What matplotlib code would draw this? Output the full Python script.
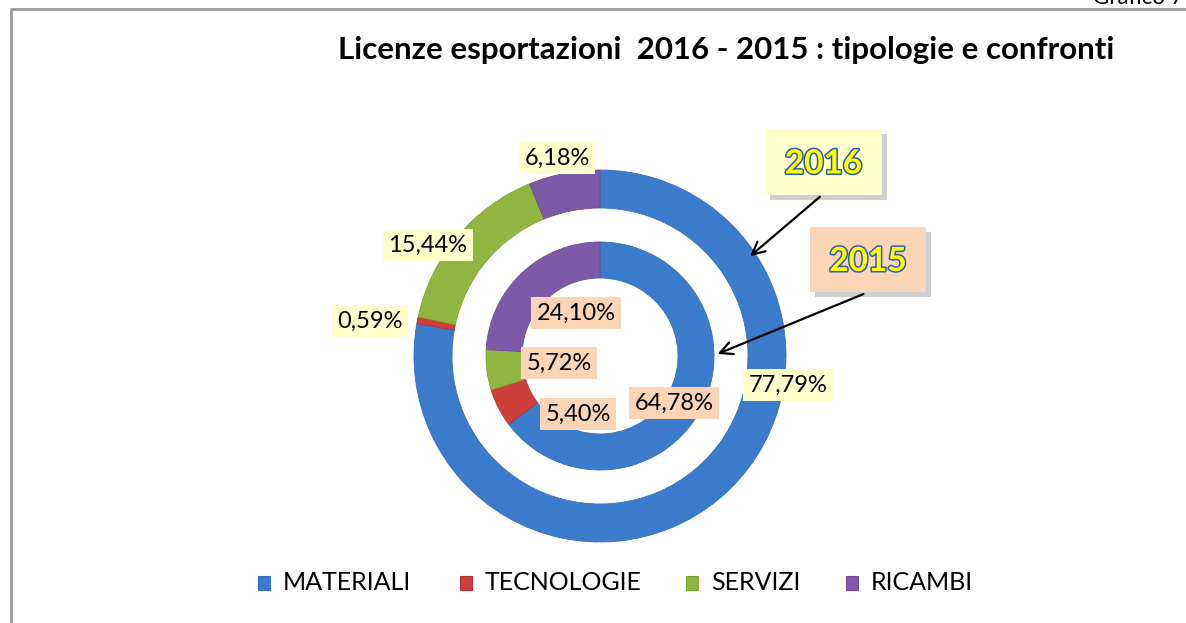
import matplotlib.pyplot as plt
import matplotlib.patheffects as pe
from matplotlib.patches import Rectangle

plt.rcParams['font.family'] = ['Lato', 'DejaVu Sans']

categorie = ['MATERIALI', 'TECNOLOGIE', 'SERVIZI', 'RICAMBI']
valori_2016 = [77.79, 0.59, 15.44, 6.18]
valori_2015 = [64.78, 5.40, 5.72, 24.10]
etichette_2016 = ['77,79%', '0,59%', '15,44%', '6,18%']
etichette_2015 = ['64,78%', '5,40%', '5,72%', '24,10%']
colori = ['#3b7bcc', '#cf3f3a', '#8fb640', '#7d5aa8']
bordi = ['#3570bd', '#b33430', '#7fa336', '#6d4d95']

# posizioni delle etichette (pixel della figura)
pos_2016 = [(788, 385), (370, 321), (428, 245), (557, 158)]
pos_2015 = [(674, 403), (578, 414), (559, 363), (576, 313)]

W, H = 1186, 623
fig = plt.figure(figsize=(W / 100, H / 100), dpi=100)
fig.patch.set_facecolor('white')

# anelli
cx, cy, r = 600, 356, 186
half = 210
ax = fig.add_axes([(cx - half) / W, (H - cy - half) / H, 2 * half / W, 2 * half / H])

ax.pie(valori_2016, radius=1.0, colors=colori, startangle=90, counterclock=False,
       wedgeprops=dict(width=38 / r, linewidth=0.6))
ax.pie(valori_2015, radius=114 / r, colors=colori, startangle=90, counterclock=False,
       wedgeprops=dict(width=36 / r, linewidth=0.6))
for i, w in enumerate(ax.patches):
    w.set_edgecolor(bordi[i % 4])
ax.set_xlim(-half / r, half / r)
ax.set_ylim(-half / r, half / r)
ax.set_aspect('equal')
ax.axis('off')

# livello di disegno in pixel
ov = fig.add_axes([0, 0, 1, 1], facecolor='none')
ov.set_xlim(0, W)
ov.set_ylim(H, 0)
ov.axis('off')

# cornice
ov.plot([11, W], [8.5, 8.5], color='#9a9a9a', lw=2, solid_capstyle='butt')
ov.plot([11, 11], [8, H], color='#9a9a9a', lw=2, solid_capstyle='butt')
ov.text(1184, 4, 'Grafico 7', ha='right', va='baseline', fontsize=16, color='black')

ov.text(726, 50, 'Licenze esportazioni  2016 - 2015 : tipologie e confronti',
        ha='center', va='center', fontsize=22.5, fontweight='bold', color='black')

for (x, y), t in zip(pos_2016, etichette_2016):
    ov.text(x, y, t, ha='center', va='center', fontsize=17, color='black',
            bbox=dict(boxstyle='square,pad=0.22', facecolor='#ffffcc', edgecolor='none'))
for (x, y), t in zip(pos_2015, etichette_2015):
    ov.text(x, y, t, ha='center', va='center', fontsize=17, color='black',
            bbox=dict(boxstyle='square,pad=0.22', facecolor='#fbd5b5', edgecolor='none'))

# riquadri anno con ombra
anni = ['2016', '2015']
box_anni = [(765, 129, 117, 66, '#ffffcc'), (810, 227, 116, 65, '#fbd5b5')]
for (x, y, w, h, c), a in zip(box_anni, anni):
    ov.add_patch(Rectangle((x + 5, y + 5), w, h, facecolor='#cfcfcf', edgecolor='none', zorder=2))
    ov.add_patch(Rectangle((x, y), w, h, facecolor=c, edgecolor='none', zorder=3))
    ov.text(x + w / 2, y + h / 2 + 2, a, ha='center', va='center', fontsize=24,
            fontweight='bold', color='#ffff00', zorder=4,
            path_effects=[pe.withStroke(linewidth=2.2, foreground='#2a5db0')])

ov.annotate('', xy=(748, 258), xytext=(822, 195),
            arrowprops=dict(arrowstyle='->,head_length=0.9,head_width=0.45', color='black', lw=1.6))
ov.annotate('', xy=(715, 355), xytext=(866, 293),
            arrowprops=dict(arrowstyle='->,head_length=0.9,head_width=0.45', color='black', lw=1.6))

# legenda
leg_x = [258, 460, 686, 846]
for x, c, b, nome in zip(leg_x, colori, bordi, categorie):
    ov.add_patch(Rectangle((x, 576), 12, 14, facecolor=c, edgecolor=b, lw=0.8))
    ov.text(x + 25, 583, nome, ha='left', va='center', fontsize=18, color='black')

fig.savefig('out.png', dpi=100)
